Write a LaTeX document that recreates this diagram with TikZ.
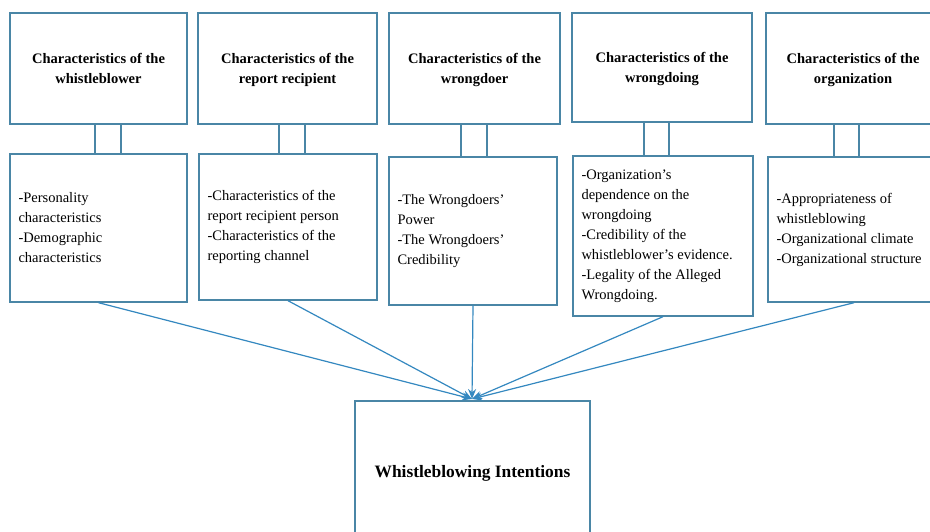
\documentclass[tikz,border=0pt]{standalone}
\usepackage{fontspec}
\setmainfont{Liberation Serif}
\usetikzlibrary{arrows.meta}
\definecolor{frame}{RGB}{74,134,166}
\definecolor{flow}{RGB}{52,136,192}
\tikzset{
  x=1pt, y=-1pt,
  panel/.style={draw=frame, line width=1.4pt, fill=white, inner sep=0pt},
  headbox/.style={panel, align=center, text depth=-3pt, font=\fontsize{14.5}{20}\selectfont\bfseries},
  itembox/.style={panel, inner xsep=8.5pt, align=flush left, font=\fontsize{14.5}{20}\selectfont},
  link/.style={draw=frame, line width=1.4pt, inner sep=0pt},
  flowline/.style={draw=flow, line width=1.2pt, -{Stealth[length=10pt,width=8pt]}}
}
\begin{document}
\begin{tikzpicture}
\useasboundingbox (0,0) rectangle (930,532);
\clip (0,0) rectangle (930,532);
\fill[white] (0,0) rectangle (930,532);

% links between heading boxes and item boxes
\node[link, minimum width=26pt, minimum height=30pt] (c1) at (108,139) {};
\node[link, minimum width=26pt, minimum height=30pt] (c2) at (292,139) {};
\node[link, minimum width=26pt, minimum height=33pt] (c3) at (474,140.5) {};
\node[link, minimum width=25pt, minimum height=35pt] (c4) at (656.5,139.5) {};
\node[link, minimum width=25pt, minimum height=33pt] (c5) at (846.5,140.5) {};

% heading boxes
\node[headbox, minimum width=177pt, minimum height=111pt] (t1) at (98.5,68.5)
  {Characteristics of the\\whistleblower};
\node[headbox, minimum width=179pt, minimum height=111pt] (t2) at (287.5,68.5)
  {Characteristics of the\\report recipient};
\node[headbox, minimum width=171pt, minimum height=111pt] (t3) at (474.5,68.5)
  {Characteristics of the\\wrongdoer};
\node[headbox, minimum width=180pt, minimum height=109pt] (t4) at (662,67.5)
  {Characteristics of the\\wrongdoing};
\node[headbox, minimum width=174pt, minimum height=111pt] (t5) at (853,68.5)
  {Characteristics of the\\organization};

% item boxes
\node[itembox, text width=160pt, minimum height=148pt] (b1) at (98.5,228)
  {-Personality\\characteristics\\-Demographic\\characteristics};
\node[itembox, text width=161pt, minimum height=146pt] (b2) at (288,227)
  {-Characteristics of the\\report recipient person\\-Characteristics of the\\reporting channel};
\node[itembox, text width=151pt, minimum height=148pt] (b3) at (473,231)
  {-The Wrongdoers'\\Power\\-The Wrongdoers'\\Credibility};
\node[itembox, text width=163pt, minimum height=160pt] (b4) at (663,236)
  {-Organization's\\dependence on the\\wrongdoing\\-Credibility of the\\whistleblower's evidence.\\-Legality of the Alleged\\Wrongdoing.};
\node[itembox, text width=155pt, minimum height=145pt] (b5) at (854,229.5)
  {-Appropriateness of\\whistleblowing\\-Organizational climate\\-Organizational structure};

% outcome box
\node[panel, minimum width=235pt, minimum height=144pt,
      font=\fontsize{17.4}{20}\selectfont\bfseries] (out) at (472.5,473)
  {Whistleblowing Intentions};

% converging arrows
\coordinate (hub) at (472,399);
\foreach \b in {b1,b2,b3,b4,b5}
  \draw[flowline] (\b.south) -- (hub);
\end{tikzpicture}
\end{document}
